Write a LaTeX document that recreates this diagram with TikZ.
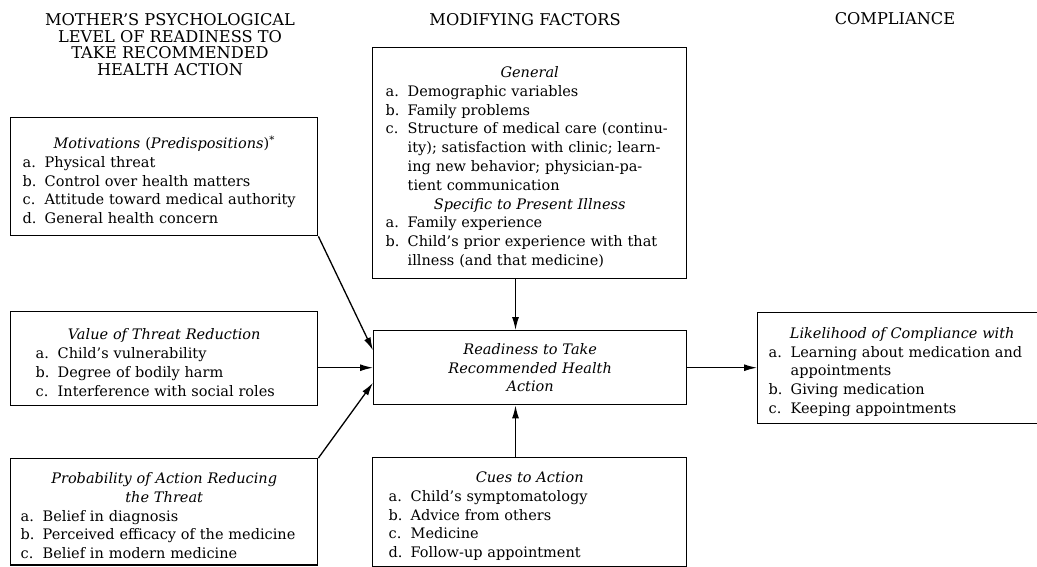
\documentclass[tikz,border=0pt]{standalone}
\usepackage{fontspec}
\setmainfont{DejaVu Serif}
\usetikzlibrary{arrows.meta,calc}
\setlength{\parindent}{0pt}
\newlength{\lw}
\setlength{\lw}{22pt}
\newcommand\bodyfont{\fontsize{14.5}{18.8}\selectfont}
\newcommand\hdrfont{\fontsize{16.2}{16.4}\selectfont}
\newcommand\itm[2]{\par\noindent\hangindent=\lw\hangafter=1\makebox[\lw][l]{#1}#2\par}
\newcommand\jl[1]{\makebox[\dimexpr\hsize-\lw\relax][s]{#1}\break}
\newcommand\ttl[1]{{\par\centering\itshape #1\par}}
\tikzset{
  hdr/.style={align=center, font=\hdrfont, inner sep=0pt},
  box/.style={draw, line width=1.4pt, anchor=north west, font=\bodyfont, inner ysep=6pt},
  arr/.style={line width=1.3pt, -{Latex[length=13pt,width=7pt]}}
}
\begin{document}
\begin{tikzpicture}[x=1pt,y=-1pt]
\clip (0,0) rectangle (1037,566);
\fill[white] (0,0) rectangle (1037,566);

% headers
\node[hdr] (h1) at (170,44.5) {MOTHER'S PSYCHOLOGICAL\\LEVEL OF READINESS TO\\TAKE RECOMMENDED\\HEALTH ACTION};
\node[hdr] (h2) at (525,20) {MODIFYING FACTORS};
\node[hdr] (h3) at (895,19) {COMPLIANCE};

% left column
\node[box, inner xsep=12pt, text width=283pt, minimum height=118pt] (mot) at (10,117) {%
\ttl{Motivations {\upshape(}Predispositions{\upshape)}\textsuperscript{\upshape *}}
\itm{a.}{Physical threat}
\itm{b.}{Control over health matters}
\itm{c.}{Attitude toward medical authority}
\itm{d.}{General health concern}};

\node[box, inner xsep=25pt, text width=257pt, minimum height=94pt] (val) at (10,311) {%
\ttl{Value of Threat Reduction}
\itm{a.}{Child's vulnerability}
\itm{b.}{Degree of bodily harm}
\itm{c.}{Interference with social roles}};

\node[box, inner xsep=10pt, text width=287pt] (prob) at (10,458) {%
\ttl{Probability of Action Reducing\\the Threat}
\itm{a.}{Belief in diagnosis}
\itm{b.}{Perceived efficacy of the medicine}
\itm{c.}{Belief in modern medicine}
\vspace*{40pt}};

% middle column
\node[box, inner xsep=13pt, text width=288pt, minimum height=231pt] (mod) at (372,47) {%
\ttl{General}
\itm{a.}{Demographic variables}
\itm{b.}{Family problems}
\itm{c.}{\jl{Structure of medical care (continu-}\jl{ity); satisfaction with clinic; learn-}\jl{ing new behavior; physician-pa-}tient communication}
\ttl{Specific to Present Illness}
\itm{a.}{Family experience}
\itm{b.}{\jl{Child's prior experience with that}illness (and that medicine)}};

\node[box, inner xsep=14pt, text width=285pt, minimum height=74pt, align=center, font=\bodyfont\itshape] (rdy) at (373,330) {Readiness to Take\\Recommended Health\\Action};

\node[box, inner xsep=16pt, text width=282pt] (cues) at (372,457) {%
\ttl{Cues to Action}
\itm{a.}{Child's symptomatology}
\itm{b.}{Advice from others}
\itm{c.}{Medicine}
\itm{d.}{Follow-up appointment}
\vspace*{40pt}};

% right column
\node[box, inner xsep=11pt, text width=267pt, minimum height=111pt] (lik) at (757,312) {%
\ttl{Likelihood of Compliance with}
\itm{a.}{\jl{Learning about medication and}appointments}
\itm{b.}{Giving medication}
\itm{c.}{Keeping appointments}};

% connectors
\coordinate (m1) at ($(rdy.north west)!0.27!(rdy.south west)$);
\coordinate (m3) at ($(rdy.north west)!0.70!(rdy.south west)$);
\coordinate (top) at ($(mod.south west)!0.455!(mod.south east)$);
\coordinate (bot) at ($(cues.north west)!0.455!(cues.north east)$);
\draw[arr] (mot.south east) -- (m1);
\draw[arr] (val.east |- rdy.west) -- (rdy.west);
\draw[arr] (prob.north east) -- (m3);
\draw[arr] (top) -- (top |- rdy.north);
\draw[arr] (bot) -- (bot |- rdy.south);
\draw[arr] (rdy.east) -- (rdy.east -| lik.west);
\end{tikzpicture}
\end{document}
